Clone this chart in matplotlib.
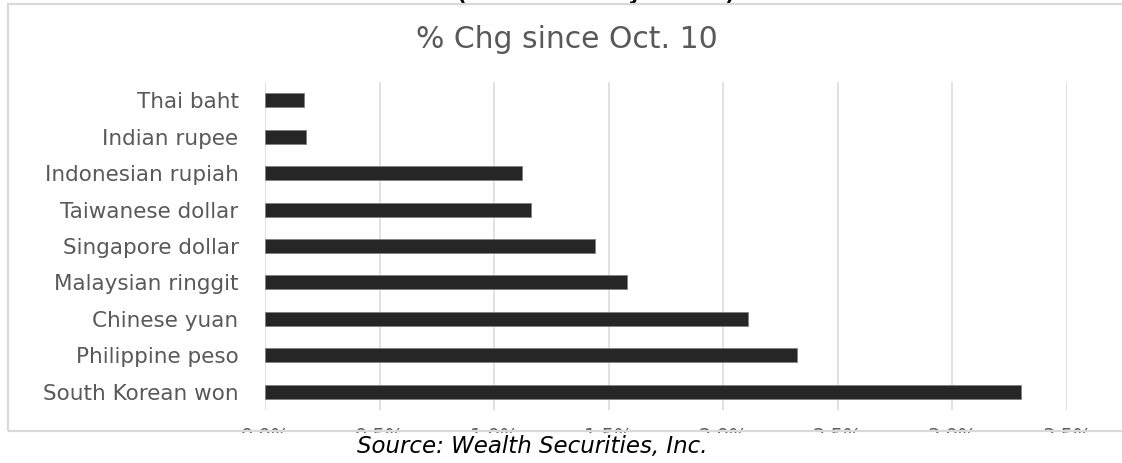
import numpy as np
import matplotlib.pyplot as plt
from matplotlib.patches import Rectangle

currencies = ["Thai baht", "Indian rupee", "Indonesian rupiah", "Taiwanese dollar",
              "Singapore dollar", "Malaysian ringgit", "Chinese yuan",
              "Philippine peso", "South Korean won"]
pct_change = [0.17, 0.18, 1.12, 1.16, 1.44, 1.58, 2.11, 2.32, 3.30]
x_ticks = [0.0, 0.5, 1.0, 1.5, 2.0, 2.5, 3.0, 3.5]
x_labels = [f"{v:.1f}%" for v in x_ticks]

title = "% Chg since Oct. 10"
source = "Source: Wealth Securities, Inc."
top_caption = "(Asian currency moves)"

gray_text = "#595959"
grid_gray = "#d9d9d9"
bar_color = "#262626"

W, H = 1122, 463
fig = plt.figure(figsize=(W / 100, H / 100), dpi=100)
fig.patch.set_facecolor("white")

# plot area in pixels: x 265..1067, y 82..410 (from top)
ax = fig.add_axes([265 / W, 1 - 410 / H, (1067 - 265) / W, (410 - 82) / H])
ypos = np.arange(len(currencies))
ax.barh(ypos, pct_change, height=0.385, color=bar_color,
        edgecolor="#808080", linewidth=0.6, zorder=3)
ax.set_ylim(len(currencies) - 0.5, -0.5)
ax.set_xlim(0, 3.5)
ax.set_yticks(ypos)
ax.set_yticklabels(currencies)
ax.set_xticks(x_ticks)
ax.set_xticklabels(x_labels)
ax.grid(axis="x", color=grid_gray, linewidth=1.1, zorder=0)
ax.set_axisbelow(True)
for s in ax.spines.values():
    s.set_visible(False)
ax.tick_params(axis="y", length=0, pad=19, labelsize=15.5, labelcolor=gray_text)
ax.tick_params(axis="x", length=0, pad=12, labelsize=14, labelcolor=gray_text)

# chart title
fig.text(567 / W, 1 - 39 / H, title, ha="center", va="center",
         fontsize=21.5, color=gray_text)

# heading above the chart, mostly cut off by the crop
fig.text(596 / W, 1.0, top_caption, ha="center", va="baseline",
         fontsize=15, fontweight="bold", color="black")

# the crop cuts the axis labels: white strip below y=433
fig.add_artist(Rectangle((0, 0), 1, (H - 433) / H, transform=fig.transFigure,
                         facecolor="white", edgecolor="none", zorder=10))
# chart border
fig.add_artist(Rectangle((8 / W, (H - 431) / H), 1.2, (431 - 4) / H,
                         transform=fig.transFigure, fill=False,
                         edgecolor=grid_gray, linewidth=1.6, zorder=11))

fig.text(532 / W, 1 - 447 / H, source, ha="center", va="center",
         fontsize=16.5, style="italic", color="black", zorder=12)

fig.savefig("out.png", dpi=100)
